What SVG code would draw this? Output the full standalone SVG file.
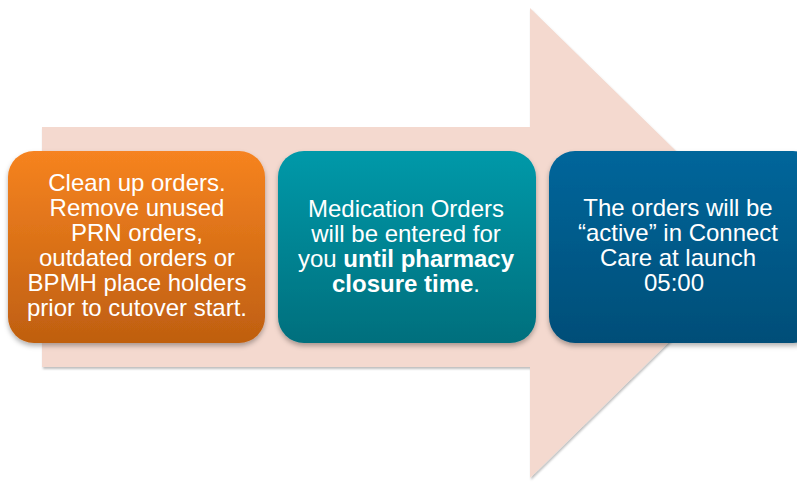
<svg xmlns="http://www.w3.org/2000/svg" width="797" height="487" viewBox="0 0 797 487">
<defs>
<linearGradient id="gOrange" x1="0" y1="0" x2="0" y2="1"><stop offset="0" stop-color="#f68320"/><stop offset="1" stop-color="#bf5f10"/></linearGradient>
<linearGradient id="gTeal" x1="0" y1="0" x2="0" y2="1"><stop offset="0" stop-color="#0499a9"/><stop offset="1" stop-color="#006f7d"/></linearGradient>
<linearGradient id="gBlue" x1="0" y1="0" x2="0" y2="1"><stop offset="0" stop-color="#02669b"/><stop offset="1" stop-color="#004e78"/></linearGradient>
<filter id="sh" x="-10%" y="-10%" width="120%" height="130%"><feDropShadow dx="0" dy="3" stdDeviation="2.5" flood-color="#000" flood-opacity="0.3"/></filter>
<filter id="shA" x="-5%" y="-5%" width="110%" height="110%"><feDropShadow dx="1" dy="2" stdDeviation="1.2" flood-color="#000" flood-opacity="0.25"/></filter>
</defs>
<style>
.t{font-family:"Liberation Sans",Arial,sans-serif;font-size:24px;fill:#ffffff;text-anchor:middle}
.b{font-weight:bold}
</style>
<rect width="797" height="487" fill="#ffffff"/>
<g id="arrow">
<polygon points="42,127 530,127 530,8 770,243 530,478 530,367 42,367" fill="#f4d9cf" filter="url(#shA)"/>
</g>
<g id="connectors"></g>
<g id="step1">
<rect x="8" y="151" width="257" height="192" rx="26" fill="url(#gOrange)" filter="url(#sh)"/>
<text class="t"><tspan x="137" y="191">Clean up orders.</tspan><tspan x="137" y="216">Remove unused</tspan><tspan x="137" y="241">PRN orders,</tspan><tspan x="137" y="266">outdated orders or</tspan><tspan x="137" y="291">BPMH place holders</tspan><tspan x="137" y="316">prior to cutover start.</tspan></text>
</g>
<g id="step2">
<rect x="278" y="151" width="258" height="192" rx="26" fill="url(#gTeal)" filter="url(#sh)"/>
<text class="t"><tspan x="406" y="217">Medication Orders</tspan><tspan x="406" y="242">will be entered for</tspan><tspan x="406" y="267">you <tspan class="b">until pharmacy</tspan></tspan><tspan x="406" y="292"><tspan class="b">closure time</tspan>.</tspan></text>
</g>
<g id="step3">
<rect x="549" y="151" width="270" height="192" rx="26" fill="url(#gBlue)" filter="url(#sh)"/>
<text class="t"><tspan x="678" y="216">The orders will be</tspan><tspan x="678" y="241">“active” in Connect</tspan><tspan x="678" y="266">Care at launch</tspan><tspan x="674" y="291">05:00</tspan></text>
</g>
</svg>
